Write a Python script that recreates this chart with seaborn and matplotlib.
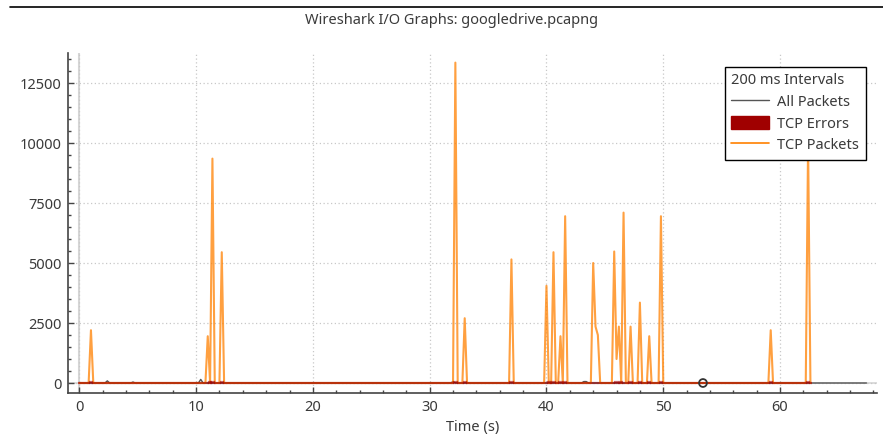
import numpy as np
import pandas as pd
import matplotlib
matplotlib.use("Agg")
import matplotlib.pyplot as plt
import seaborn as sns
from matplotlib.lines import Line2D
from matplotlib.patches import Patch
from matplotlib.ticker import MultipleLocator

# ---- data -----------------------------------------------------------------
INTERVAL_S = 0.2          # 200 ms bins
TCP_END_S = 62.6          # last bin of the TCP / error series
ALL_END_S = 67.4          # last bin of the all-packets series

# TCP Packets: bins with traffic (time in s, value); every other bin is 0
tcp_times = [1.0, 11.0, 11.4, 12.2, 32.2, 33.0, 37.0, 40.0, 40.6, 41.2, 41.6,
             44.0, 44.2, 44.4, 45.8, 46.0, 46.2, 46.6, 47.2, 48.0, 48.8, 49.8,
             59.2, 62.4]
tcp_values = [2200, 1950, 9350, 5450, 13350, 2700, 5150, 4050, 5450, 1950, 6950,
              5000, 2350, 2000, 5480, 1000, 2350, 7100, 2350, 3350, 1950, 6950,
              2200, 10000]

# All Packets: non-empty bins
all_times = [2.4, 4.6, 10.4, 32.0, 43.2, 43.4]
all_values = [90, 40, 150, 60, 60, 60]

# TCP Errors: non-empty bins
err_times = [1.0, 11.2, 11.4, 12.2, 32.2, 33.0, 37.0, 40.2, 40.6, 41.2, 41.6,
             46.0, 46.4, 47.2, 48.0, 48.8, 49.8, 59.2, 62.4]
err_values = [60, 60, 60, 60, 60, 60, 60, 60, 60, 60, 60,
              60, 60, 60, 60, 60, 60, 60, 60]

# marker on the time line
event_time = [53.4]
event_value = [0]

TITLE = "Wireshark I/O Graphs: googledrive.pcapng"
XLABEL = "Time (s)"
LEGEND_TITLE = "200 ms Intervals"
SERIES = ["All Packets", "TCP Errors", "TCP Packets"]


def binned(end_s, times, values):
    """Place the non-empty bins on the full 200 ms grid."""
    t = np.round(np.arange(0, end_s + INTERVAL_S / 2, INTERVAL_S), 1)
    y = np.zeros_like(t)
    idx = np.rint(np.asarray(times) / INTERVAL_S).astype(int)
    y[idx] = values
    return pd.DataFrame({"time": t, "value": y})


tcp = binned(TCP_END_S, tcp_times, tcp_values)
allp = binned(ALL_END_S, all_times, all_values)
err = binned(TCP_END_S, err_times, err_values)

# ---- style ----------------------------------------------------------------
sns.set_style("white")
plt.rcParams["font.family"] = ["Noto Sans", "DejaVu Sans"]
plt.rcParams["text.color"] = "#3a3a3a"
plt.rcParams["axes.labelcolor"] = "#3a3a3a"

C_ALL = "#555555"
C_ERR = "#a00000"
C_TCP = "#ff8000"
C_GRID = "#c8c8c8"
C_AXIS = "#444444"
FS = 10.5

W, H = 883, 443
fig = plt.figure(figsize=(W / 100, H / 100), dpi=100)
ax = fig.add_axes([68.3 / W, 1 - 392.7 / H, (877 - 68.3) / W, (392.7 - 52.7) / H])

# zero lines
ax.axvline(0, color="#d6d6d6", lw=1.5, zorder=0)
ax.axhline(0, color="#d6d6d6", lw=1.2, zorder=0)

# series
sns.lineplot(data=allp, x="time", y="value", ax=ax, color=C_ALL, lw=1.0,
             estimator=None, zorder=2)
sns.lineplot(data=tcp, x="time", y="value", ax=ax, color=C_TCP, lw=1.5,
             alpha=0.75, estimator=None, zorder=3)
ax.bar(err["time"], err["value"], width=INTERVAL_S, color=C_ERR,
       edgecolor=C_ERR, linewidth=1.6, alpha=0.6, zorder=4)
sns.scatterplot(x=event_time, y=event_value, ax=ax, marker="o", s=32,
                facecolor="none", edgecolor="#333333", linewidth=1.3, zorder=5)

# axes
ax.set_xlim(-0.94, 68.3)
ax.set_ylim(-404, 13763)
ax.xaxis.set_major_locator(MultipleLocator(10))
ax.xaxis.set_minor_locator(MultipleLocator(2))
ax.yaxis.set_major_locator(MultipleLocator(2500))
ax.yaxis.set_minor_locator(MultipleLocator(500))
ax.tick_params(which="both", direction="in", color=C_AXIS, width=1.0,
               labelsize=FS, labelcolor="#3a3a3a")
ax.tick_params(which="major", length=4.0, pad=5)
ax.tick_params(which="minor", length=2.2)
ax.tick_params(axis="x", which="both", bottom=True)
ax.tick_params(axis="y", which="both", left=True)

for s in ("top", "right"):
    ax.spines[s].set_visible(False)
for s in ("left", "bottom"):
    ax.spines[s].set_color(C_AXIS)
    ax.spines[s].set_linewidth(1.2)

ax.grid(True, which="major", color=C_GRID, lw=0.9, linestyle=(0, (1, 2)))
ax.set_axisbelow(True)
ax.set_xlabel(XLABEL, fontsize=FS, labelpad=4)
ax.set_ylabel("")

# title and rule above it
fig.text(452 / W, 1 - 20 / H, TITLE, ha="center", va="center", fontsize=FS)
fig.add_artist(Line2D([10 / W, 1.0], [1 - 7 / H, 1 - 7 / H], color="black",
                      lw=1.2, transform=fig.transFigure))

# legend
handles = [Line2D([], [], color=C_ALL, lw=1.0),
           Patch(facecolor=C_ERR, edgecolor=C_ERR),
           Line2D([], [], color=C_TCP, lw=1.2)]
leg = ax.legend(handles, SERIES, title=LEGEND_TITLE, loc="upper right",
                bbox_to_anchor=(865.7 / W, 1 - 66.7 / H),
                bbox_transform=fig.transFigure, borderaxespad=0,
                fontsize=FS, title_fontsize=FS, frameon=True, fancybox=False,
                framealpha=1, edgecolor="black", handlelength=2.6,
                handleheight=1.0, handletextpad=0.55, labelspacing=0.42,
                borderpad=0.45, alignment="left")
leg.get_frame().set_linewidth(1.0)

fig.savefig("out.png", dpi=100)
